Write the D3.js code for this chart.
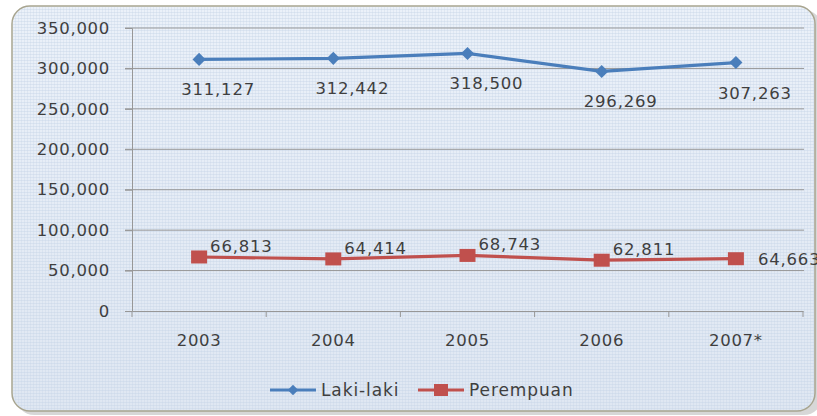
<!DOCTYPE html>
<html>
<head>
<meta charset="utf-8">
<script src="https://cdn.jsdelivr.net/npm/d3@7"></script>
<style>
  body { margin: 0; background: #fff; }
  svg { display: block; font-family: "DejaVu Sans", Verdana, sans-serif; }
</style>
</head>
<body>
<svg id="chart" width="817" height="416"></svg>
<script>
const years = ['2003', '2004', '2005', '2006', '2007*'];
const laki = [311127, 312442, 318500, 296269, 307263];
const perempuan = [66813, 64414, 68743, 62811, 64663];
const yTicks = [0, 50000, 100000, 150000, 200000, 250000, 300000, 350000];
const seriesNames = ['Laki-laki', 'Perempuan'];

const blue = '#4a7ebb', red = '#c0504d';
const fmt = d3.format(',');

const svg = d3.select('#chart');
const defs = svg.append('defs');

let grad = defs.append('linearGradient').attr('id', 'bg').attr('x1', 0).attr('y1', 0).attr('x2', 0).attr('y2', 1);
grad.append('stop').attr('offset', '0%').attr('stop-color', '#ebf1f9');
grad.append('stop').attr('offset', '100%').attr('stop-color', '#dfe7f2');

// fine texture like the scanned picture
let pat = defs.append('pattern').attr('id', 'tex').attr('width', 3).attr('height', 3).attr('patternUnits', 'userSpaceOnUse');
pat.append('rect').attr('width', 3).attr('height', 1).attr('fill', '#c4d2e6').attr('opacity', 0.4);
pat.append('rect').attr('width', 1).attr('height', 3).attr('fill', '#c4d2e6').attr('opacity', 0.3);

// shadow
svg.append('rect')
    .attr('x', 16).attr('y', 10).attr('width', 806).attr('height', 405)
    .attr('rx', 18).attr('fill', '#bdbdbd').attr('opacity', 0.6);

// panel
svg.append('rect')
    .attr('x', 12).attr('y', 6).attr('width', 803).attr('height', 405)
    .attr('rx', 18).attr('fill', 'url(#bg)')
    .attr('stroke', '#a8a590').attr('stroke-width', 1.5);
svg.append('rect')
    .attr('x', 13).attr('y', 7).attr('width', 801).attr('height', 403)
    .attr('rx', 17).attr('fill', 'url(#tex)');

const x = d3.scaleBand().domain(years).range([132, 803]);
const y = d3.scaleLinear().domain([0, 350000]).range([311, 28]);
const cx = d => x(d) + x.bandwidth() / 2;

// gridlines
svg.append('g').selectAll('line').data(yTicks.slice(1)).join('line')
    .attr('x1', 125).attr('x2', 804)
    .attr('y1', d => y(d)).attr('y2', d => y(d))
    .attr('stroke', '#979797').attr('stroke-width', 1);

// y axis
const yAxis = svg.append('g')
    .attr('transform', 'translate(132,0)')
    .call(d3.axisLeft(y).tickValues(yTicks).tickFormat(fmt).tickSize(7).tickPadding(15));
yAxis.select('.domain').attr('stroke', '#979797');
yAxis.selectAll('.tick line').attr('stroke', '#979797');
yAxis.selectAll('text').attr('font-size', 16.5).attr('fill', '#3f3f3f')
    .attr('font-family', '"DejaVu Sans", sans-serif').attr('letter-spacing', 0.7);

// x axis
const xAxis = svg.append('g')
    .attr('transform', 'translate(0,311)')
    .call(d3.axisBottom(x).tickSize(0).tickPadding(23));
xAxis.select('.domain').attr('stroke', '#979797');
xAxis.selectAll('text').attr('font-size', 16.5).attr('fill', '#3f3f3f')
    .attr('font-family', '"DejaVu Sans", sans-serif').attr('letter-spacing', 0.7);
svg.append('g').selectAll('line').data(d3.range(years.length + 1)).join('line')
    .attr('x1', i => 132 + i * x.bandwidth()).attr('x2', i => 132 + i * x.bandwidth())
    .attr('y1', 311).attr('y2', 317)
    .attr('stroke', '#979797');

const line = d3.line().x((d, i) => cx(years[i])).y(d => y(d));

// Laki-laki
svg.append('path').datum(laki)
    .attr('d', line).attr('fill', 'none').attr('stroke', blue).attr('stroke-width', 3.2);
svg.append('g').selectAll('path').data(laki).join('path')
    .attr('d', d3.symbol(d3.symbolDiamond2, 110))
    .attr('transform', (d, i) => `translate(${cx(years[i])},${y(d)})`)
    .attr('fill', blue);
svg.append('g').selectAll('text').data(laki).join('text')
    .attr('x', (d, i) => cx(years[i]) + 19)
    .attr('y', d => y(d) + 36)
    .attr('text-anchor', 'middle')
    .attr('font-size', 16.5).attr('letter-spacing', 0.8).attr('fill', '#3f3f3f')
    .text(fmt);

// Perempuan
svg.append('path').datum(perempuan)
    .attr('d', line).attr('fill', 'none').attr('stroke', red).attr('stroke-width', 3.2);
svg.append('g').selectAll('rect').data(perempuan).join('rect')
    .attr('x', (d, i) => cx(years[i]) - 8)
    .attr('y', d => y(d) - 6.5)
    .attr('width', 16).attr('height', 13)
    .attr('fill', red);
svg.append('g').selectAll('text').data(perempuan).join('text')
    .attr('x', (d, i) => cx(years[i]) + (i === years.length - 1 ? 22 : 11))
    .attr('y', (d, i) => y(d) + (i === years.length - 1 ? 6 : -5))
    .attr('font-size', 16.5).attr('letter-spacing', 0.8).attr('fill', '#3f3f3f')
    .text(fmt);

// legend
const legend = svg.append('g').attr('transform', 'translate(0,390)');
const lx = [270, 418];
seriesNames.forEach((name, i) => {
    const g = legend.append('g').attr('transform', `translate(${lx[i]},0)`);
    g.append('line').attr('x1', 0).attr('x2', 46).attr('y1', 0).attr('y2', 0)
        .attr('stroke', i === 0 ? blue : red).attr('stroke-width', 3.2);
    if (i === 0) {
        g.append('path').attr('d', d3.symbol(d3.symbolDiamond2, 70))
            .attr('transform', 'translate(23,0)').attr('fill', blue);
    } else {
        g.append('rect').attr('x', 16).attr('y', -6).attr('width', 14).attr('height', 12).attr('fill', red);
    }
    g.append('text').attr('x', 51).attr('y', 6)
        .attr('font-size', 17).attr('letter-spacing', 0.9).attr('fill', '#3f3f3f')
        .text(name);
});
</script>
</body>
</html>
